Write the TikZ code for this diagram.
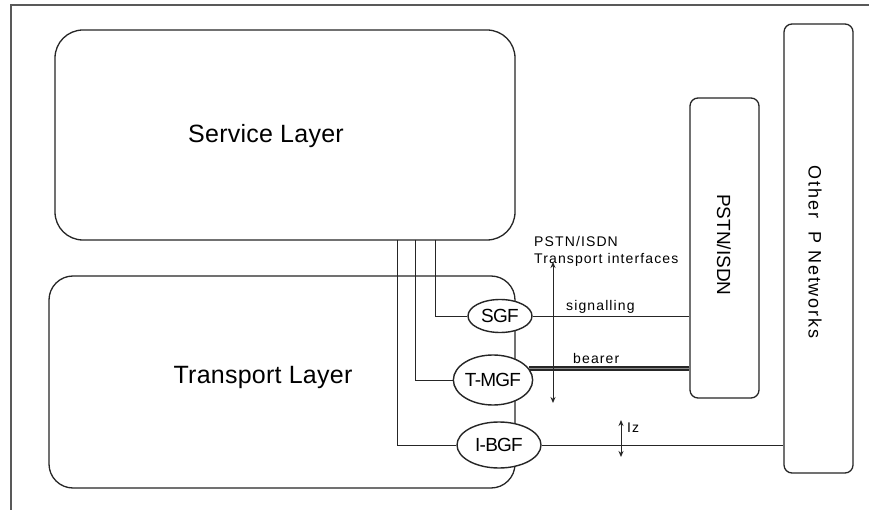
\documentclass[tikz,border=0pt]{standalone}
\usepackage{fontspec}
\setmainfont{Liberation Sans}
\usetikzlibrary{arrows.meta,calc,shapes.geometric}
\begin{document}
\begin{tikzpicture}[x=1pt,y=-1pt,
  ln/.style={draw=black!85, line width=0.8pt},
  layerbox/.style={ln, line width=1.3pt, rectangle, rounded corners=26pt, inner sep=0pt},
  netbox/.style={ln, line width=1.3pt, rectangle, rounded corners=8pt, inner sep=0pt},
  gw/.style={ln, line width=1.4pt, ellipse, fill=white, inner sep=0pt, font=\fontsize{19}{21}\selectfont\addfontfeature{LetterSpace=-4}},
  big/.style={font=\fontsize{25}{28}\selectfont\addfontfeature{LetterSpace=1}},
  small/.style={font=\fontsize{14}{16}\selectfont\addfontfeature{LetterSpace=8}, inner sep=0pt},
  dblarr/.style={ln, line width=1pt, {Stealth[length=6pt,width=5pt]}-{Stealth[length=6pt,width=5pt]}}
]
\useasboundingbox (0,0) rectangle (869,510);
\fill[white] (0,0) rectangle (869,510);
% frame
\draw[black!65, line width=1.3pt] (11,510) -- (11,5) -- (869,5);

% layer boxes
\node[layerbox, rounded corners=28pt, minimum width=460pt, minimum height=210pt] (service) at (285,135) {};
\node[big] (servicelbl) at (266,136) {Service Layer};
\node[layerbox, rounded corners=24pt, minimum width=466pt, minimum height=212pt] (transport) at (282,382) {};
\node[big] (transportlbl) at (263,377) {Transport Layer};

% networks
\node[netbox, minimum width=69pt, minimum height=300pt] (pstn) at (724.5,248) {};
\node[rotate=-90, font=\fontsize{19}{21}\selectfont] (pstnlbl) at (724,245) {PSTN/ISDN};
\node[netbox, minimum width=69pt, minimum height=449pt] (other) at (818.5,248.5) {};
\node[rotate=-90, font=\fontsize{18}{20}\selectfont\addfontfeature{LetterSpace=10}] (otherlbl) at (815,252) {Other~~P Networks};

% coordinates on service layer bottom
\coordinate (s1) at (397,240);
\coordinate (s2) at (415,240);
\coordinate (s3) at (435,240);

% gateways
\node[gw, minimum width=64pt, minimum height=33pt] (sgf) at (500,316) {SGF};
\node[gw, minimum width=72pt, minimum height=50pt] (tmgf) at (493,380) {T-MGF};
\node[gw, minimum width=84pt, minimum height=46pt] (ibgf) at (499,445) {I-BGF};

% service -> gateways
\draw[ln] (s3) |- (sgf.west);
\draw[ln] (s2) |- (tmgf.west);
\draw[ln] (s1) |- (ibgf.west);

% signalling
\draw[ln] (sgf.east) -- (sgf.east -| pstn.west);
\node[small, anchor=south west] (siglbl) at (566,314) {signalling};
% bearer
\draw[black!85, line width=5pt] (tmgf.18) -- (tmgf.18 -| pstn.west);
\draw[black!45, line width=0.8pt] (tmgf.18) -- (tmgf.18 -| pstn.west);
\node[small, anchor=south west] (bearerlbl) at (573,364) {bearer};
% Iz
\draw[ln] (ibgf.east) -- (ibgf.east -| other.west);
\coordinate (iza) at (621,420);
\coordinate (izb) at (621,457);
\draw[dblarr] (iza) -- (izb);
\node[small, anchor=west] (izlbl) at (627,428) {Iz};

% transport interfaces
\coordinate (tia) at (553,262);
\coordinate (tib) at (553,403);
\draw[dblarr] (tia) -- (tib);
\node[small, anchor=west] (tilbl1) at (534,241) {PSTN/ISDN};
\node[small, anchor=west] (tilbl2) at (534,260) {Transport interfaces};
\end{tikzpicture}
\end{document}
